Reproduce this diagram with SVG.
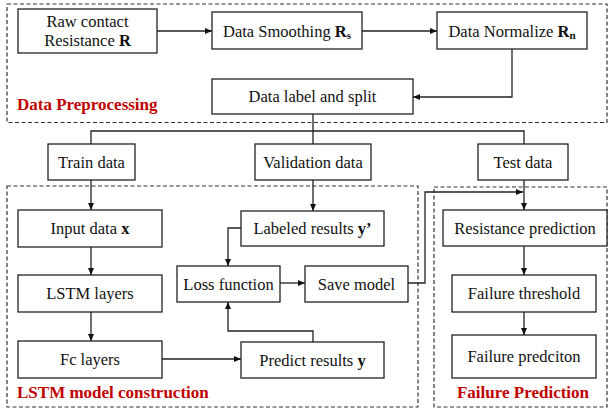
<svg xmlns="http://www.w3.org/2000/svg" width="610" height="409" viewBox="0 0 610 409">
<style>
.box{fill:#fff;stroke:#222;stroke-width:1.3}
.grp{fill:none;stroke:#333;stroke-width:1.2;stroke-dasharray:4 2.5}
text{font-family:'Liberation Serif','Times New Roman',Tinos,'DejaVu Serif',serif}
.t{font-size:16.5px;fill:#111;text-anchor:middle}
.b{font-weight:bold}
.lab{font-size:17px;font-weight:bold;fill:#C00000}
.c{fill:none;stroke:#222;stroke-width:1.3}
</style>
<defs>
<marker id="ah" markerWidth="8" markerHeight="8" refX="7" refY="4" orient="auto" markerUnits="userSpaceOnUse">
<path d="M0,1 L7,4 L0,7 Z" fill="#111"/>
</marker>
</defs>
<rect x="0" y="0" width="610" height="409" fill="#fff"/>
<g id="groups">
<rect class="grp" x="7" y="4" width="600" height="118.5"/>
<rect class="grp" x="7" y="186" width="411" height="221"/>
<rect class="grp" x="434" y="187" width="173" height="220"/>
<text class="lab" x="17" y="110">Data Preprocessing</text>
<text class="lab" x="17" y="398">LSTM model construction</text>
<text class="lab" x="523" y="398" text-anchor="middle">Failure Prediction</text>
</g>
<g id="connectors">
<line class="c" x1="157" y1="31" x2="212" y2="31" marker-end="url(#ah)"/>
<line class="c" x1="362" y1="31" x2="437" y2="31" marker-end="url(#ah)"/>
<polyline class="c" points="512,49 512,97 413,97" marker-end="url(#ah)"/>
<line class="c" x1="313" y1="114" x2="313" y2="131"/>
<polyline class="c" points="91,144 91,131 524,131 524,144"/>
<line class="c" x1="313" y1="131" x2="313" y2="144"/>
<line class="c" x1="91" y1="180" x2="91" y2="210" marker-end="url(#ah)"/>
<line class="c" x1="313" y1="180" x2="313" y2="211" marker-end="url(#ah)"/>
<line class="c" x1="524" y1="180" x2="524" y2="210" marker-end="url(#ah)"/>
<line class="c" x1="91" y1="247" x2="91" y2="275" marker-end="url(#ah)"/>
<line class="c" x1="91" y1="312" x2="91" y2="341" marker-end="url(#ah)"/>
<line class="c" x1="162" y1="359" x2="241" y2="359" marker-end="url(#ah)"/>
<polyline class="c" points="241,228 228,228 228,266" marker-end="url(#ah)"/>
<polyline class="c" points="313,342 313,331 228,331 228,302" marker-end="url(#ah)"/>
<line class="c" x1="280" y1="283" x2="305" y2="283" marker-end="url(#ah)"/>
<polyline class="c" points="408,283 425,283 425,192 523,192" marker-end="url(#ah)"/>
<line class="c" x1="524" y1="246" x2="524" y2="275" marker-end="url(#ah)"/>
<line class="c" x1="524" y1="312" x2="524" y2="335" marker-end="url(#ah)"/>
</g>
<g id="raw">
<rect class="box" x="18" y="9" width="139" height="44"/>
<text class="t" x="87.5" y="26.5">Raw contact</text>
<text class="t" x="87.5" y="46">Resistance <tspan class="b">R</tspan></text>
</g>
<g id="smooth">
<rect class="box" x="212" y="12" width="150" height="37"/>
<text class="t" x="287" y="36.5">Data Smoothing <tspan class="b">R</tspan><tspan class="b" font-size="11" dy="2">s</tspan></text>
</g>
<g id="normalize">
<rect class="box" x="437" y="12" width="150" height="37"/>
<text class="t" x="512" y="36.5">Data Normalize <tspan class="b">R</tspan><tspan class="b" font-size="11" dy="2">n</tspan></text>
</g>
<g id="split">
<rect class="box" x="212" y="79" width="201" height="35"/>
<text class="t" x="312.5" y="102">Data label and split</text>
</g>
<g id="train">
<rect class="box" x="48" y="144" width="87" height="36"/>
<text class="t" x="91.5" y="167.5">Train data</text>
</g>
<g id="validation">
<rect class="box" x="255" y="144" width="116" height="36"/>
<text class="t" x="313" y="167.5">Validation data</text>
</g>
<g id="test">
<rect class="box" x="478" y="144" width="90" height="36"/>
<text class="t" x="523" y="167.5">Test data</text>
</g>
<g id="input">
<rect class="box" x="18" y="210" width="144" height="37"/>
<text class="t" x="90" y="234">Input data <tspan class="b">x</tspan></text>
</g>
<g id="labeled">
<rect class="box" x="241" y="211" width="143" height="35"/>
<text class="t" x="312.5" y="234">Labeled results <tspan class="b">y’</tspan></text>
</g>
<g id="loss">
<rect class="box" x="177" y="266" width="103" height="36"/>
<text class="t" x="228.5" y="289.5">Loss function</text>
</g>
<g id="save">
<rect class="box" x="305" y="266" width="103" height="36"/>
<text class="t" x="356.5" y="289.5">Save model</text>
</g>
<g id="lstm">
<rect class="box" x="18" y="275" width="144" height="37"/>
<text class="t" x="90" y="299">LSTM layers</text>
</g>
<g id="fc">
<rect class="box" x="18" y="341" width="144" height="37"/>
<text class="t" x="90" y="365">Fc layers</text>
</g>
<g id="predict">
<rect class="box" x="241" y="342" width="143" height="36"/>
<text class="t" x="312.5" y="365.5">Predict results <tspan class="b">y</tspan></text>
</g>
<g id="resistance">
<rect class="box" x="443" y="210" width="164" height="36"/>
<text class="t" x="525" y="233.5">Resistance prediction</text>
</g>
<g id="threshold">
<rect class="box" x="452" y="275" width="144" height="37"/>
<text class="t" x="524" y="299">Failure threshold</text>
</g>
<g id="failure">
<rect class="box" x="452" y="335" width="144" height="43"/>
<text class="t" x="524" y="362">Failure predciton</text>
</g>
</svg>
